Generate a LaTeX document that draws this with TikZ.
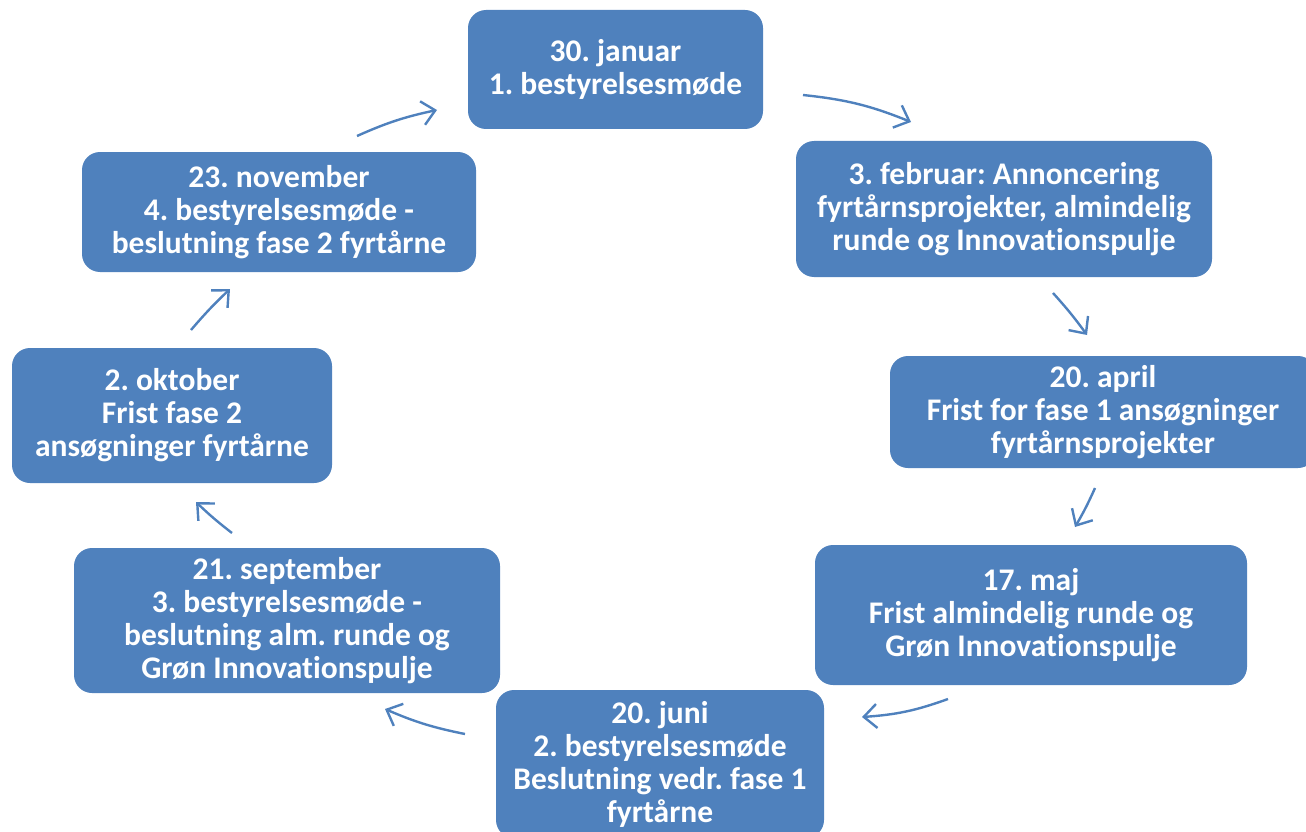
\documentclass[tikz,border=0pt]{standalone}
\usepackage{fontspec}
\setmainfont{Carlito}[Ligatures=NoCommon]
\usetikzlibrary{arrows.meta}
\frenchspacing
\definecolor{boxblue}{HTML}{4F81BD}
\tikzset{event node/.style={rectangle, rounded corners=18pt, fill=boxblue, text=white, align=center, inner sep=2pt, font=\fontsize{31.5}{33}\selectfont\bfseries},
  cycle arrow/.style={draw=boxblue, line width=2.4pt, -{Straight Barb[length=13pt,width=24pt,line width=2.4pt]}},}

\begin{document}
\begin{tikzpicture}[x=1pt,y=1pt]
        \useasboundingbox (0,0) rectangle (1306,-832);
        % Nodes
        \node[event node, minimum width=295, minimum height=119] (jan) at (615.5,-69.5) {30. januar\\1. bestyrelsesmøde};
        \node[event node, minimum width=416, minimum height=136] (feb) at (1004,-209) {3. februar: Annoncering\\fyrtårnsprojekter, almindelig\\runde og Innovationspulje};
        \node[event node, minimum width=426, minimum height=112] (apr) at (1103,-412) {20. april\\Frist for fase 1 ansøgninger\\fyrtårnsprojekter};
        \node[event node, minimum width=432, minimum height=140] (maj) at (1031,-615) {17. maj\\Frist almindelig runde og\\Grøn Innovationspulje};
        \node[event node, minimum width=328, minimum height=148] (jun) at (660,-764) {20. juni\\2. bestyrelsesmøde\\Beslutning vedr. fase 1\\fyrtårne};
        \node[event node, minimum width=426, minimum height=145] (sep) at (287,-620.5) {21. september\\3. bestyrelsesmøde -\\beslutning alm. runde og\\Grøn Innovationspulje};
        \node[event node, minimum width=320, minimum height=135] (okt) at (172,-415.5) {2. oktober\\Frist fase 2\\ansøgninger fyrtårne};
        \node[event node, minimum width=394, minimum height=120] (nov) at (279,-212) {23. november\\4. bestyrelsesmøde -\\beslutning fase 2 fyrtårne};
        % Arrow ends
        \coordinate (jan out) at (803,-95);   \coordinate (feb in) at (911,-122);
        \coordinate (feb out) at (1053,-293); \coordinate (apr in) at (1087,-335);
        \coordinate (apr out) at (1095,-488); \coordinate (maj in) at (1075,-527);
        \coordinate (maj out) at (948,-699);  \coordinate (jun in) at (862,-717);
        \coordinate (jun out) at (465,-734);  \coordinate (sep in) at (385,-709);
        \coordinate (sep out) at (232,-533);  \coordinate (okt in) at (196,-502);
        \coordinate (okt out) at (191,-330);  \coordinate (nov in) at (230,-289);
        \coordinate (nov out) at (357,-136);  \coordinate (jan in) at (437,-110);
        % Paths
        \path
        (jan out) edge[cycle arrow, bend left=8] (feb in)
        (feb out) edge[cycle arrow, bend left=3] (apr in)
        (apr out) edge[cycle arrow, bend left=3] (maj in)
        (maj out) edge[cycle arrow, bend left=8] (jun in)
        (jun out) edge[cycle arrow, bend left=6] (sep in)
        (sep out) edge[cycle arrow, bend left=3] (okt in)
        (okt out) edge[cycle arrow, bend left=3] (nov in)
        (nov out) edge[cycle arrow, bend left=6] (jan in);
    \end{tikzpicture}
\end{document}
